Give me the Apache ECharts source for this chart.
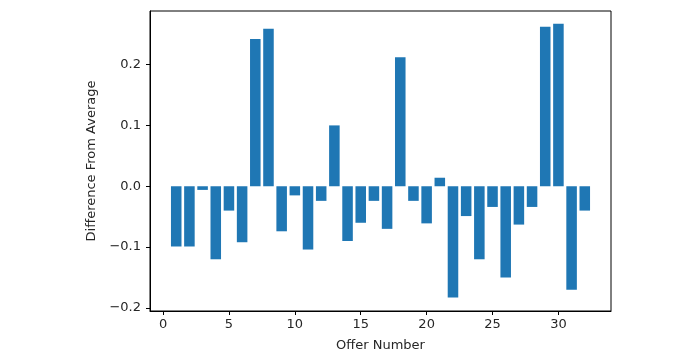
<!DOCTYPE html>
<html>
<head>
<meta charset="utf-8">
<script src="https://cdn.jsdelivr.net/npm/echarts@6/dist/echarts.min.js"></script>
<style>html,body{margin:0;padding:0;background:#fff;}#c{width:694px;height:359px;}</style>
</head>
<body>
<div id="c"></div>
<script>
const offers = [1,2,3,4,5,6,7,8,9,10,11,12,13,14,15,16,17,18,19,20,21,22,23,24,25,26,27,28,29,30,31,32];
const diffs = [-0.099,-0.099,-0.006,-0.120,-0.040,-0.092,0.242,0.259,-0.074,-0.015,-0.104,-0.024,0.100,-0.090,-0.060,-0.024,-0.070,0.212,-0.024,-0.061,0.014,-0.183,-0.049,-0.120,-0.034,-0.150,-0.063,-0.034,0.262,0.267,-0.170,-0.040];
const xTicks = [0,5,10,15,20,25,30];
const yTicks = [-0.2,-0.1,0.0,0.1,0.2];
const xLabel = 'Offer Number';
const yLabel = 'Difference From Average';

const chart = echarts.init(document.getElementById('c'), null, {renderer:'canvas'});
const font = 'DejaVu Sans';
const txt = '#262626';
chart.setOption({
  animation:false,
  backgroundColor:'#fff',
  grid:{left:150, right:83, top:11, bottom:48, show:true, borderColor:'#000', borderWidth:1, backgroundColor:'transparent'},
  xAxis:{
    type:'value', min:-0.99, max:33.99,
    name:xLabel, nameLocation:'middle', nameGap:28,
    nameTextStyle:{fontFamily:font, fontSize:13, color:txt},
    axisLine:{show:true, onZero:false, lineStyle:{color:'#000', width:1}},
    splitLine:{show:false},
    axisTick:{show:true, length:4, inside:false, lineStyle:{color:'#000'}, customValues:xTicks},
    axisLabel:{fontFamily:font, fontSize:13, color:txt, margin:7, customValues:xTicks, formatter:v=>String(v)}
  },
  yAxis:{
    type:'value', min:-0.205, max:0.288,
    name:yLabel, nameLocation:'middle', nameGap:50, nameRotate:90,
    nameTextStyle:{fontFamily:font, fontSize:13, color:txt},
    axisLine:{show:true, onZero:false, lineStyle:{color:'#000', width:1}},
    splitLine:{show:false},
    axisTick:{show:true, length:4, inside:false, lineStyle:{color:'#000'}, customValues:yTicks},
    axisLabel:{fontFamily:font, fontSize:13, color:txt, margin:9, customValues:yTicks, formatter:v=>v.toFixed(1).replace('-','\u2212')}
  },
  series:[{
    type:'custom',
    data:offers.map((o,i)=>[o,diffs[i]]),
    renderItem:function(params, api){
      const x = api.value(0), y = api.value(1);
      const p1 = api.coord([x-0.4, y]);
      const p2 = api.coord([x+0.4, 0]);
      return {type:'rect', shape:{x:p1[0], y:Math.min(p1[1],p2[1]), width:p2[0]-p1[0], height:Math.abs(p2[1]-p1[1])}, style:{fill:'#1f77b4'}};
    }
  }]
});
</script>
</body>
</html>
